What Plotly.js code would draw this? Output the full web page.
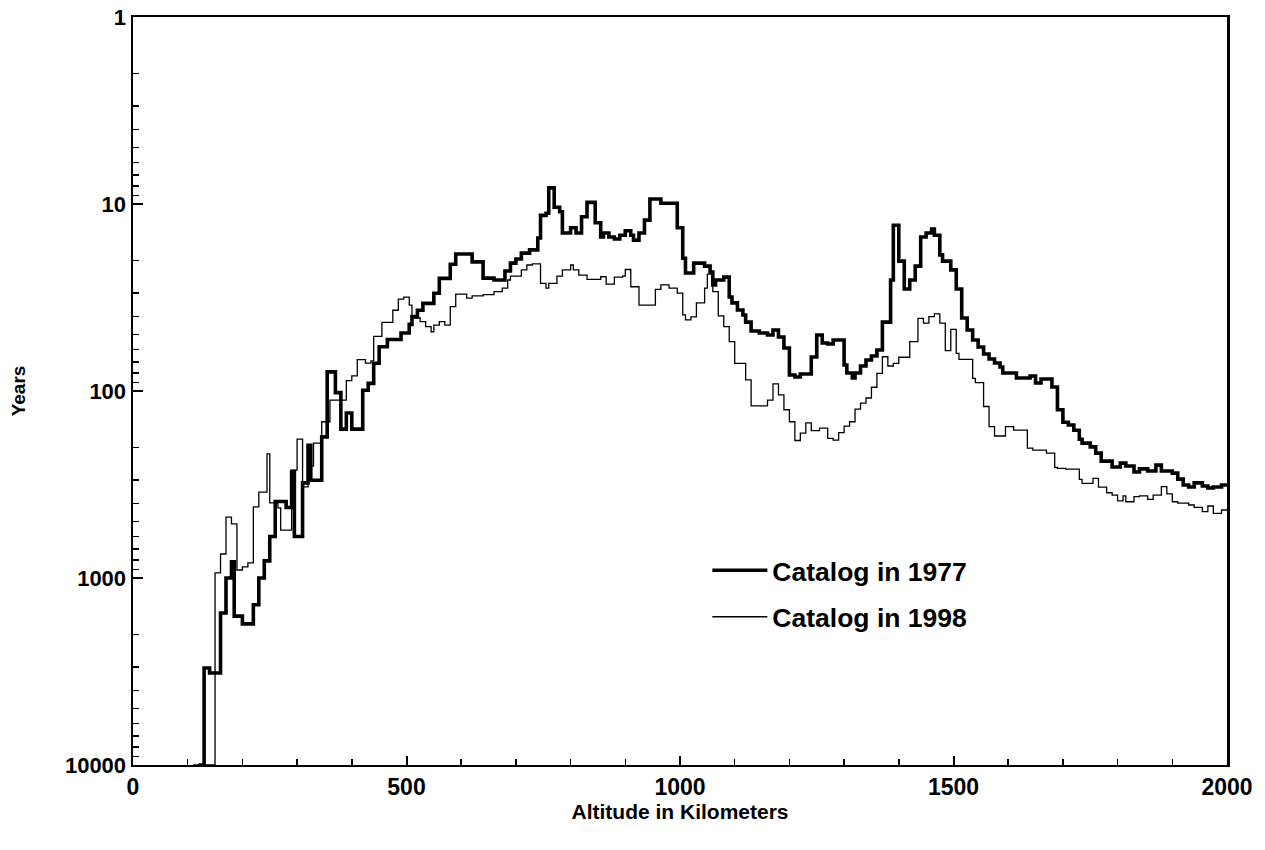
<!DOCTYPE html>
<html>
<head>
<meta charset="utf-8">
<script src="https://cdn.plot.ly/plotly-3.0.1.min.js"></script>
<style>html,body{margin:0;padding:0;background:#fff;}#chart{width:1265px;height:850px;}</style>
</head>
<body>
<div id="chart"></div>
<script>
// Altitude (km) at the start of each step, and years for that step
const alt1977 = [120,130,140,160,170,180,185,200,220,230,
  240,250,260,280,290,295,310,320,325,345,
  355,370,380,390,400,420,430,440,450,465,
  490,505,510,520,530,550,560,580,590,620,
  640,660,680,690,700,710,725,740,745,755,
  760,770,780,785,800,810,820,830,845,855,
  860,870,880,890,900,910,915,925,935,945,
  965,995,1005,1010,1025,1045,1055,1060,1065,1080,
  1090,1095,1105,1115,1120,1130,1145,1160,1170,1180,
  1190,1200,1210,1220,1240,1250,1260,1270,1280,1300,
  1305,1315,1320,1330,1340,1350,1360,1370,1385,1390,
  1400,1410,1420,1430,1440,1450,1460,1465,1475,1480,
  1495,1505,1515,1525,1535,1545,1555,1565,1575,1585,
  1590,1615,1640,1650,1660,1680,1690,1700,1710,1720,
  1730,1735,1750,1760,1770,1790,1805,1815,1830,1840,
  1855,1870,1880,1900,1910,1920,1930,1940,1955,1965,
  1975,1990,2000];
const yrs1977 = [10000,3030,3220,1540,1000,820,1600,1760,1390,1000,
  810,600,390,420,270,600,310,195,300,176,
  79,102,160,131,160,99,91,71,58,53,
  49,44,40,37,34,30,25,21,18.5,20.4,
  24.9,25.5,22.8,20.7,19.7,18.3,17.6,15.2,11.5,11.2,
  8.2,10.4,11.0,14.3,13.4,14.3,11.7,9.8,12.6,15.0,
  14.3,15.0,15.4,14.7,13.9,14.7,15.6,14.3,12.2,9.4,
  9.9,13.4,19.5,23.4,20.7,21.5,23.1,27.1,25.5,24.6,
  31.4,33.8,36.9,39.2,42.8,47.8,49.0,50.2,47.2,51.4,
  58.9,82.1,84.2,81.1,65.8,50.2,55.4,56.1,53.4,72.6,
  80.1,85.2,80.1,73.5,68.3,65.0,60.4,42.8,25.5,13.0,
  20.2,28.5,25.5,21.5,15.0,14.3,13.6,14.7,18.7,20.2,
  22.5,28.5,40.7,47.2,53.4,58.2,63.4,67.4,70.8,74.4,
  80.1,85.2,83.1,90.6,86.3,95.2,126,147,152,162,
  181,190,199,215,237,255,243,252,271,261,
  268,249,268,275,296,318,326,310,322,330,
  326,318,318];

const alt1998 = [110,150,160,170,180,190,200,210,220,230,
  245,250,265,270,290,300,310,320,330,345,
  360,390,400,410,425,435,440,455,475,485,
  495,505,510,525,535,545,550,560,570,580,
  590,610,620,640,660,675,685,690,710,720,
  730,745,755,760,775,785,800,805,815,830,
  855,865,880,895,900,910,925,955,965,980,
  995,1005,1010,1020,1030,1045,1050,1060,1070,1080,
  1090,1100,1120,1130,1160,1170,1180,1190,1200,1210,
  1220,1230,1240,1255,1270,1280,1290,1300,1310,1320,
  1330,1340,1350,1360,1370,1380,1390,1400,1420,1435,
  1445,1455,1465,1475,1485,1495,1505,1510,1535,1540,
  1555,1565,1575,1595,1610,1635,1645,1670,1685,1690,
  1705,1730,1735,1755,1765,1780,1790,1800,1810,1815,
  1830,1840,1855,1865,1880,1890,1900,1910,1930,1940,
  1955,1965,1975,1990,2000];
const yrs1998 = [10000,940,744,472,514,906,873,831,417,347,
  217,397,422,554,265,181,326,252,190,146,
  112,88,83,68,71,69,51,43,37,32.3,
  31.5,34.7,40.7,42.6,45.3,48.2,44.4,42.6,44.4,35.4,
  30.3,31.9,31.0,30.5,29.4,28.2,25.5,24.3,22.5,21.2,
  20.9,26.6,28.2,26.6,24.3,22.5,21.2,22.5,24.0,25.3,
  24.5,26.8,24.6,24.3,22.4,27.7,34.7,28.6,27.1,28.2,
  30.0,39.2,41.7,40.1,33.8,28.2,23.7,29.4,39.7,45.3,
  54.5,71.1,87.3,120,112,91.7,105,126,146,184,
  168,148,163,158,179,183,167,154,146,125,
  116,109,95.5,80.4,65.6,73.5,71.1,66.0,54.5,40.9,
  43.4,40.0,38.7,43.4,60.9,46.8,62.9,67.7,85.5,90.3,
  121,155,174,155,162,202,207,215,256,259,
  262,297,312,293,327,350,360,387,364,391,
  367,364,380,360,325,355,391,398,407,419,
  442,412,451,433,433];

const seriesNames = ['Catalog in 1977', 'Catalog in 1998'];
const yTickVals = [1, 10, 100, 1000, 10000];
const yTickText = ['1', '10', '100', '1000', '10000'];

// minor log ticks 2..9 in each decade (styling only)
const yMinor = [];
for (let d = 0; d < 4; d++) for (let k = 2; k <= 9; k++) yMinor.push(k * Math.pow(10, d));

const FONT = 'Liberation Sans, Arial, Helvetica, sans-serif';

const traces = [
  {x: alt1977, y: yrs1977, mode: 'lines', name: seriesNames[0], legendgroup: 'a',
   line: {shape: 'hv', width: 3.6, color: '#000'}},
  {x: alt1998, y: yrs1998, mode: 'lines', name: seriesNames[1], legendgroup: 'b',
   line: {shape: 'hv', width: 1.3, color: '#000'}}
];

const layout = {
  width: 1265, height: 850,
  margin: {l: 133, r: 38, t: 17, b: 85},
  paper_bgcolor: '#fff', plot_bgcolor: '#fff',
  font: {family: FONT, color: '#000', size: 20, weight: 'bold'},
  showlegend: true,
  legend: {x: 0.525, y: 0.292, xanchor: 'left', yanchor: 'top', itemwidth: 55,
           font: {family: FONT, size: 26.5, weight: 'bold', color: '#000'},
           bgcolor: 'rgba(0,0,0,0)', traceorder: 'grouped', tracegroupgap: 9},
  xaxis: {
    range: [0, 2000], tickmode: 'linear', tick0: 0, dtick: 500,
    ticks: 'inside', ticklen: 9, tickwidth: 2, tickcolor: '#000',
    showline: true, linewidth: 2, linecolor: '#000', mirror: true,
    showgrid: false, zeroline: false,
    tickfont: {family: FONT, size: 23, weight: 'bold'},
    minor: {tickmode: 'linear', tick0: 0, dtick: 100, ticks: 'inside', ticklen: 6, tickwidth: 1.5, tickcolor: '#000', showgrid: false},
    title: {text: 'Altitude in Kilometers', font: {family: FONT, size: 21, weight: 'bold'}, standoff: 1}
  },
  yaxis: {
    type: 'log', range: [4, 0], tickmode: 'array', tickvals: yTickVals, ticktext: yTickText,
    ticks: 'inside', ticklen: 10, tickwidth: 2, tickcolor: '#000',
    showline: true, linewidth: 2.5, linecolor: '#000', mirror: true,
    showgrid: false, zeroline: false,
    tickfont: {family: FONT, size: 22, weight: 'bold'},
    minor: {tickmode: 'array', tickvals: yMinor, ticks: 'inside', ticklen: 6, tickwidth: 1.5, tickcolor: '#000', showgrid: false},
    title: {text: 'Years', font: {family: FONT, size: 19, weight: 'bold'}, standoff: 35}
  }
};

Plotly.newPlot('chart', traces, layout, {displayModeBar: false, staticPlot: true});
</script>
</body>
</html>
